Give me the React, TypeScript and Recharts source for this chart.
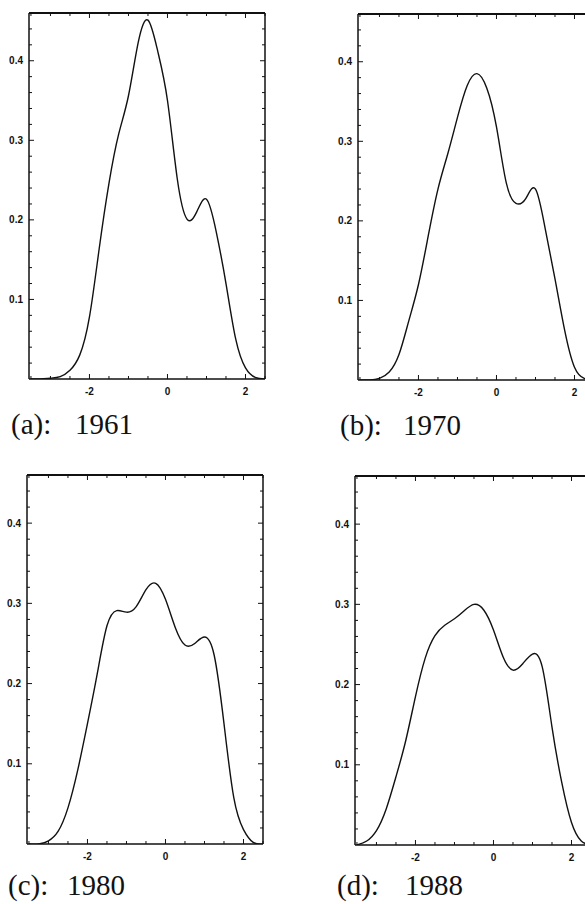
import React from "react";
import { LineChart, Line, XAxis, YAxis } from "recharts";

// grid of the density estimate (x values)
const xs = [-3.5, -3.25, -3, -2.75, -2.5, -2.25, -2, -1.75, -1.5, -1.25, -1, -0.75, -0.5, -0.25, 0, 0.25, 0.5, 0.75, 1, 1.25, 1.5, 1.75, 2, 2.25, 2.5];

// densities
const d1961 = [0, 0, 0.001, 0.003, 0.011, 0.03, 0.078, 0.164, 0.246, 0.308, 0.356, 0.423, 0.451, 0.412, 0.35, 0.252, 0.201, 0.21, 0.226, 0.185, 0.12, 0.05, 0.014, 0.002, 0];
const d1970 = [0, 0, 0.002, 0.01, 0.032, 0.074, 0.12, 0.181, 0.24, 0.284, 0.33, 0.37, 0.385, 0.367, 0.318, 0.248, 0.222, 0.228, 0.24, 0.19, 0.127, 0.062, 0.016, 0.002, 0];
const d1980 = [0, 0, 0.004, 0.016, 0.045, 0.092, 0.15, 0.212, 0.272, 0.291, 0.289, 0.296, 0.317, 0.325, 0.305, 0.27, 0.248, 0.25, 0.258, 0.235, 0.15, 0.058, 0.018, 0.002, 0];
const d1988 = [0, 0.005, 0.018, 0.045, 0.085, 0.13, 0.185, 0.233, 0.261, 0.274, 0.282, 0.292, 0.3, 0.293, 0.268, 0.234, 0.218, 0.226, 0.238, 0.222, 0.147, 0.078, 0.028, 0.005, 0];

const tags = ["(a):", "(b):", "(c):", "(d):"];
const years = ["1961", "1970", "1980", "1988"];

const xMajor = [-2, 0, 2];
const xAll = [-3.5, -3, -2.5, -2, -1.5, -1, -0.5, 0, 0.5, 1, 1.5, 2, 2.5];
const yMajor = [0.1, 0.2, 0.3, 0.4];
const yAll = [0.02, 0.04, 0.06, 0.08, 0.1, 0.12, 0.14, 0.16, 0.18, 0.2, 0.22, 0.24, 0.26, 0.28, 0.3, 0.32, 0.34, 0.36, 0.38, 0.4, 0.42, 0.44];

const series = [d1961, d1970, d1980, d1988];

// plot-area placement of each panel on the page
const panels = [
  { left: 29, top: 13, height: 366, capX: 11, yearX: 75, capY: 434 },
  { left: 358, top: 14, height: 366, capX: 340, yearX: 403, capY: 435 },
  { left: 27, top: 475, height: 369, capX: 8, yearX: 67, capY: 895 },
  { left: 355, top: 476, height: 369, capX: 337, yearX: 405, capY: 895 },
];
const plotW = 236;
const mL = 30, mR = 4, mT = 4, mB = 22;

const INK = "#111";
const labelStyle: React.CSSProperties = {
  fontFamily: "'Liberation Sans', Arial, sans-serif",
  fontSize: 10,
  fontWeight: 700,
  fill: INK,
};

const isIn = (arr: number[], v: number) => arr.some((a) => Math.abs(a - v) < 1e-6);

function xTick(side: "top" | "bottom") {
  return (p: any) => {
    const v = p.payload.value;
    const major = isIn(xMajor, v);
    const len = major ? 5 : 3;
    const dir = side === "bottom" ? -1 : 1;
    return (
      <g>
        <line x1={p.x} x2={p.x} y1={p.y} y2={p.y + dir * len} stroke={INK} strokeWidth={1} />
        {side === "bottom" && major && (
          <text x={p.x} y={p.y + 16} textAnchor="middle" style={labelStyle}>
            {String(v)}
          </text>
        )}
      </g>
    );
  };
}

function yTick(side: "left" | "right") {
  return (p: any) => {
    const v = p.payload.value;
    const major = isIn(yMajor, v);
    const len = major ? 5 : 3;
    const dir = side === "left" ? 1 : -1;
    return (
      <g>
        <line x1={p.x} x2={p.x + dir * len} y1={p.y} y2={p.y} stroke={INK} strokeWidth={1} />
        {side === "left" && major && (
          <text x={p.x - 6} y={p.y + 3.5} textAnchor="end" style={labelStyle}>
            {v.toFixed(1)}
          </text>
        )}
      </g>
    );
  };
}

function Panel({ idx }: { idx: number }) {
  const p = panels[idx];
  const data = xs.map((x, i) => ({ x, y: series[idx][i] }));
  const W = mL + 1 + plotW + 1 + mR;
  const H = mT + 1 + p.height + 1 + mB;
  const axisLine = { stroke: INK, strokeWidth: 1.5 };
  return (
    <div style={{ position: "absolute", left: p.left - mL - 1, top: p.top - mT - 1 }}>
      <LineChart width={W} height={H} data={data} margin={{ top: mT, right: mR, bottom: mB, left: mL }}>
        <XAxis
          dataKey="x"
          type="number"
          domain={[-3.55, 2.5]}
          allowDataOverflow
          ticks={xAll}
          interval={0}
          height={1}
          tickSize={0}
          tickMargin={0}
          tickLine={false}
          axisLine={axisLine}
          tick={xTick("bottom")}
        />
        <XAxis
          xAxisId="t"
          orientation="top"
          dataKey="x"
          type="number"
          domain={[-3.55, 2.5]}
          allowDataOverflow
          ticks={xAll}
          interval={0}
          height={1}
          tickSize={0}
          tickMargin={0}
          tickLine={false}
          axisLine={{ stroke: INK, strokeWidth: 2 }}
          tick={xTick("top")}
        />
        <YAxis
          type="number"
          domain={[0, 0.46]}
          allowDataOverflow
          ticks={yAll}
          interval={0}
          width={1}
          tickSize={0}
          tickMargin={0}
          tickLine={false}
          axisLine={axisLine}
          tick={yTick("left")}
        />
        <YAxis
          yAxisId="r"
          orientation="right"
          type="number"
          domain={[0, 0.46]}
          allowDataOverflow
          ticks={yAll}
          interval={0}
          width={1}
          tickSize={0}
          tickMargin={0}
          tickLine={false}
          axisLine={axisLine}
          tick={yTick("right")}
        />
        <Line
          type="natural"
          dataKey="y"
          stroke={INK}
          strokeWidth={1.4}
          dot={false}
          isAnimationActive={false}
        />
      </LineChart>
    </div>
  );
}

export default function App() {
  return (
    <div
      style={{
        position: "absolute",
        left: 0,
        top: 0,
        width: 585,
        height: 904,
        overflow: "hidden",
        background: "#fff",
      }}
    >
      <svg width={585} height={904} style={{ position: "absolute", left: 0, top: 0 }}>
        {panels.map((p, i) => (
          <g key={i} style={{ fontFamily: "'Liberation Serif', 'Times New Roman', serif", fontSize: 29 }} fill={INK}>
            <text x={p.capX} y={p.capY}>{tags[i]}</text>
            <text x={p.yearX} y={p.capY}>{years[i]}</text>
          </g>
        ))}
      </svg>
      {panels.map((_, i) => (
        <Panel key={i} idx={i} />
      ))}
    </div>
  );
}
